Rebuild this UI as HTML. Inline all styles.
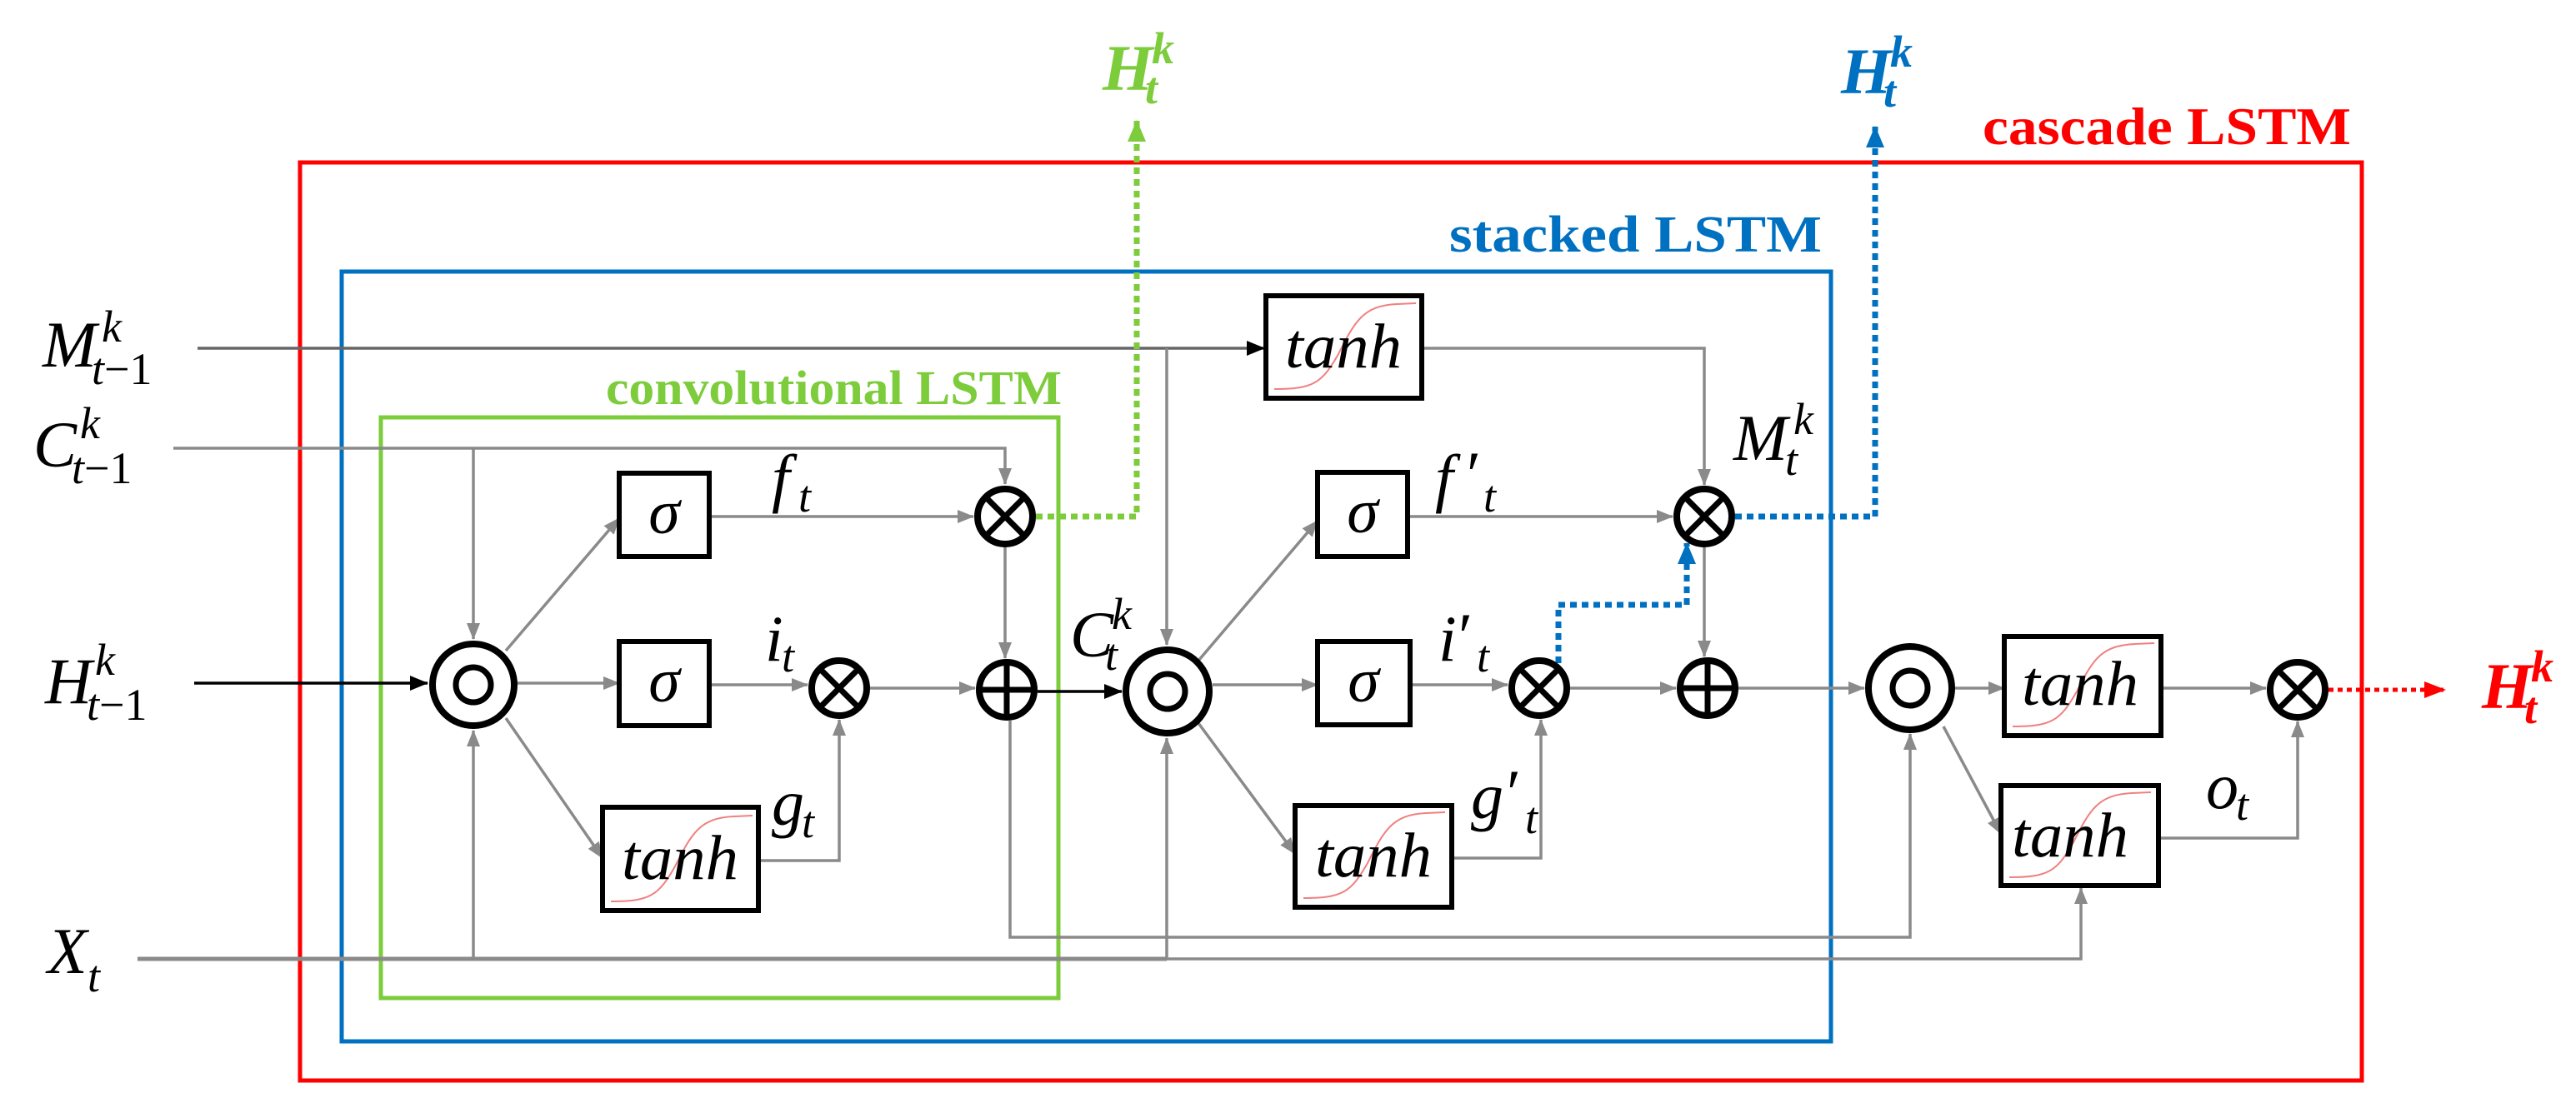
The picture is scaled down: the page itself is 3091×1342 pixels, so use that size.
<!DOCTYPE html>
<html><head><meta charset="utf-8"><style>
html,body{margin:0;padding:0;background:#fff;}
svg{display:block;}
text{font-family:"Liberation Serif","DejaVu Serif",serif;}
.m{font-family:"Liberation Serif",serif;font-style:italic;font-size:78px;fill:#000;}
.s{font-family:"Liberation Serif",serif;font-style:italic;font-size:54px;fill:#000;}
.u{font-style:normal;}
.g{fill:none;stroke:#8a8a8a;stroke-width:3.5;}
.k{fill:none;stroke:#000;stroke-width:3.5;}
.box{fill:#fff;stroke:#000;stroke-width:6;}
.cir{fill:#fff;stroke:#000;stroke-width:8;}
.op{stroke:#000;stroke-width:7;fill:none;}
.cv{fill:none;stroke:#f08080;stroke-width:2;}
.tn{font-family:"Liberation Serif",serif;font-style:italic;font-size:76px;fill:#000;}
</style></head><body>
<svg width="3091" height="1342" viewBox="0 0 3091 1342" xmlns="http://www.w3.org/2000/svg">
<defs>
<marker id="agb" markerWidth="20" markerHeight="20" refX="19" refY="10" orient="auto" markerUnits="userSpaceOnUse" viewBox="0 0 20 20"><path d="M0,2 L20,10 L0,18 z" fill="#8a8a8a"/></marker>
<marker id="ak" markerWidth="22" markerHeight="22" refX="21" refY="11" orient="auto" markerUnits="userSpaceOnUse" viewBox="0 0 22 22"><path d="M0,2 L22,11 L0,20 z" fill="#000"/></marker>
<marker id="agr" markerWidth="26" markerHeight="26" refX="25" refY="13" orient="auto" markerUnits="userSpaceOnUse" viewBox="0 0 26 26"><path d="M0,2 L26,13 L0,24 z" fill="#7dcc3c"/></marker>
<marker id="abl" markerWidth="26" markerHeight="26" refX="25" refY="13" orient="auto" markerUnits="userSpaceOnUse" viewBox="0 0 26 26"><path d="M0,2 L26,13 L0,24 z" fill="#0070c0"/></marker>
<marker id="ard" markerWidth="26" markerHeight="26" refX="25" refY="13" orient="auto" markerUnits="userSpaceOnUse" viewBox="0 0 26 26"><path d="M0,3 L26,13 L0,23 z" fill="#ff0000"/></marker>
</defs>

<rect x="360" y="195" width="2474" height="1102" fill="none" stroke="#ff0000" stroke-width="5"/>
<rect x="410" y="326" width="1787" height="924" fill="none" stroke="#0070c0" stroke-width="5"/>
<rect x="457" y="501" width="813" height="697" fill="none" stroke="#7dcc3c" stroke-width="5"/>
<text x="2379" y="173" font-weight="bold" font-size="64" fill="#ff0000" textLength="442" lengthAdjust="spacingAndGlyphs">cascade LSTM</text>
<text x="1739" y="302" font-weight="bold" font-size="62" fill="#0070c0" textLength="447" lengthAdjust="spacingAndGlyphs">stacked LSTM</text>
<text x="727" y="485" font-weight="bold" font-size="58" fill="#7dcc3c" textLength="547" lengthAdjust="spacingAndGlyphs">convolutional  LSTM</text>

<polyline class="g" style="stroke:#666" points="237,418 1517,418" marker-end="url(#ak)"/>
<polyline class="g" points="1400,418 1400,774" marker-end="url(#agb)"/>
<polyline class="g" points="208,538 1206,538 1206,581" marker-end="url(#agb)"/>
<polyline class="g" points="568,538 568,767" marker-end="url(#agb)"/>
<polyline class="k" points="233,820 513,820" marker-end="url(#ak)"/>
<polyline class="g" style="stroke-width:5" points="165,1151 1400,1151"/>
<polyline class="g" points="1400,1151 2497,1151 2497,1066" marker-end="url(#agb)"/>
<polyline class="g" points="568,1151 568,877" marker-end="url(#agb)"/>
<polyline class="g" points="1400,1151 1400,886" marker-end="url(#agb)"/>
<line class="g" x1="607" y1="781" x2="743" y2="622" marker-end="url(#agb)"/>
<line class="g" x1="620" y1="820" x2="743" y2="820" marker-end="url(#agb)"/>
<line class="g" x1="607" y1="862" x2="723" y2="1030" marker-end="url(#agb)"/>
<line class="g" x1="851" y1="620" x2="1168" y2="620" marker-end="url(#agb)"/>
<line class="g" x1="851" y1="822" x2="969" y2="822" marker-end="url(#agb)"/>
<polyline class="g" points="910,1033 1007,1033 1007,864" marker-end="url(#agb)"/>
<line class="g" x1="1044" y1="826" x2="1170" y2="826" marker-end="url(#agb)"/>
<line class="g" x1="1206" y1="657" x2="1206" y2="790" marker-end="url(#agb)"/>
<line class="k" x1="1245" y1="830" x2="1346" y2="830" marker-end="url(#ak)"/>
<polyline class="g" points="1212,865 1212,1125 2292,1125 2292,881" marker-end="url(#agb)"/>
<line class="g" x1="1438" y1="793" x2="1581" y2="625" marker-end="url(#agb)"/>
<line class="g" x1="1455" y1="822" x2="1581" y2="822" marker-end="url(#agb)"/>
<line class="g" x1="1438" y1="868" x2="1554" y2="1025" marker-end="url(#agb)"/>
<line class="g" x1="1689" y1="620" x2="2007" y2="620" marker-end="url(#agb)"/>
<line class="g" x1="1692" y1="822" x2="1809" y2="822" marker-end="url(#agb)"/>
<polyline class="g" points="1742,1030 1849,1030 1849,864" marker-end="url(#agb)"/>
<line class="g" x1="1884" y1="826" x2="2011" y2="826" marker-end="url(#agb)"/>
<line class="g" x1="2045" y1="657" x2="2045" y2="788" marker-end="url(#agb)"/>
<polyline class="g" points="1706,418 2045,418 2045,582" marker-end="url(#agb)"/>
<line class="g" x1="2086" y1="826" x2="2237" y2="826" marker-end="url(#agb)"/>
<line class="g" x1="2346" y1="826" x2="2405" y2="826" marker-end="url(#agb)"/>
<line class="g" x1="2332" y1="872" x2="2401" y2="1001" marker-end="url(#agb)"/>
<line class="g" x1="2593" y1="826" x2="2719" y2="826" marker-end="url(#agb)"/>
<polyline class="g" points="2590,1006 2757,1006 2757,866" marker-end="url(#agb)"/>

<polyline points="1243,620 1364,620 1364,145" fill="none" stroke="#7dcc3c" stroke-width="7" stroke-dasharray="8,6" marker-end="url(#agr)"/>
<polyline points="2082,620 2250,620 2250,152" fill="none" stroke="#0070c0" stroke-width="7" stroke-dasharray="8,6" marker-end="url(#abl)"/>
<polyline points="1870,796 1870,726 2024,726 2024,652" fill="none" stroke="#0070c0" stroke-width="7" stroke-dasharray="8,6" marker-end="url(#abl)"/>
<polyline points="2794,828 2934,828" fill="none" stroke="#ff0000" stroke-width="5" stroke-dasharray="6,5" marker-end="url(#ard)"/>

<rect class="box" x="743" y="568" width="108" height="100"/>
<text class="tn" x="797" y="640" text-anchor="middle">σ</text>
<rect class="box" x="743" y="770" width="108" height="101"/>
<text class="tn" x="797" y="842" text-anchor="middle">σ</text>
<rect class="box" x="1581" y="567" width="108" height="101"/>
<text class="tn" x="1635" y="639" text-anchor="middle">σ</text>
<rect class="box" x="1581" y="770" width="111" height="100"/>
<text class="tn" x="1636" y="842" text-anchor="middle">σ</text>

<rect class="box" x="723" y="969" width="187" height="124"/>
<path class="cv" d="M733,1082 C780,1082 790,1075 810,1040 C830,1000 840,982 880,980 L903,979"/>
<text class="tn" x="816" y="1055" text-anchor="middle" textLength="140" lengthAdjust="spacingAndGlyphs">tanh</text>
<rect class="box" x="1519" y="355" width="187" height="123"/>
<path class="cv" d="M1529,467 C1576,467 1586,460 1606,425 C1626,385 1636,367 1676,365 L1699,364"/>
<text class="tn" x="1612" y="441" text-anchor="middle" textLength="140" lengthAdjust="spacingAndGlyphs">tanh</text>
<rect class="box" x="1554" y="967" width="188" height="122"/>
<path class="cv" d="M1564,1078 C1611,1078 1621,1071 1641,1036 C1661,996 1671,978 1711,976 L1734,975"/>
<text class="tn" x="1648" y="1052" text-anchor="middle" textLength="140" lengthAdjust="spacingAndGlyphs">tanh</text>
<rect class="box" x="2405" y="764" width="188" height="119"/>
<path class="cv" d="M2415,872 C2462,872 2472,865 2492,830 C2512,790 2522,775 2562,773 L2585,772"/>
<text class="tn" x="2496" y="846" text-anchor="middle" textLength="140" lengthAdjust="spacingAndGlyphs">tanh</text>
<rect class="box" x="2401" y="943" width="189" height="120"/>
<path class="cv" d="M2411,1053 C2458,1053 2468,1046 2488,1011 C2508,971 2518,954 2558,952 L2581,951"/>
<text class="tn" x="2484" y="1028" text-anchor="middle" textLength="140" lengthAdjust="spacingAndGlyphs">tanh</text>

<circle class="cir" cx="568" cy="822" r="49"/><circle cx="568" cy="822" r="21" fill="none" stroke="#000" stroke-width="7"/>
<circle class="cir" cx="1401" cy="830" r="50"/><circle cx="1401" cy="830" r="21" fill="none" stroke="#000" stroke-width="7"/>
<circle class="cir" cx="2292" cy="826" r="50"/><circle cx="2292" cy="826" r="21" fill="none" stroke="#000" stroke-width="7"/>

<circle class="cir" cx="1206" cy="620" r="33"/><path class="op" d="M1183,597 L1229,643 M1229,597 L1183,643"/>
<circle class="cir" cx="1007" cy="826" r="33"/><path class="op" d="M984,803 L1030,849 M1030,803 L984,849"/>
<circle class="cir" cx="1847" cy="826" r="33"/><path class="op" d="M1824,803 L1870,849 M1870,803 L1824,849"/>
<circle class="cir" cx="2045" cy="620" r="33"/><path class="op" d="M2022,597 L2068,643 M2068,597 L2022,643"/>
<circle class="cir" cx="2757" cy="828" r="33"/><path class="op" d="M2734,805 L2780,851 M2780,805 L2734,851"/>
<circle class="cir" cx="1208" cy="828" r="33"/><path class="op" d="M1175,828 L1241,828 M1208,795 L1208,861"/>
<circle class="cir" cx="2049" cy="826" r="33"/><path class="op" d="M2016,826 L2082,826 M2049,793 L2049,859"/>

<text class="m" x="51" y="440">M</text><text class="s" x="122" y="410">k</text><text class="s" x="110" y="461">t<tspan class="u">−1</tspan></text>
<text class="m" x="40" y="560">C</text><text class="s" x="96" y="526">k</text><text class="s" x="86" y="580">t<tspan class="u">−1</tspan></text>
<text class="m" x="54" y="844">H</text><text class="s" x="114" y="810">k</text><text class="s" x="104" y="864">t<tspan class="u">−1</tspan></text>
<text class="m" x="57" y="1168">X</text><text class="s" x="105" y="1190">t</text>
<text class="m" x="926" y="600">f</text><text class="s" x="958" y="614">t</text>
<text class="m" x="918" y="793">i</text><text class="s" x="938" y="806">t</text>
<text class="m" x="926" y="990">g</text><text class="s" x="962" y="1005">t</text>
<text class="m" x="1284" y="788">C</text><text class="s" x="1334" y="755">k</text><text class="s" x="1326" y="804">t</text>
<text class="m" x="1722" y="600">f</text><text class="m u" x="1760" y="596">′</text><text class="s" x="1780" y="614">t</text>
<text class="m" x="1726" y="793">i</text><text class="m u" x="1750" y="790">′</text><text class="s" x="1772" y="806">t</text>
<text class="m" x="1765" y="982">g</text><text class="m u" x="1808" y="978">′</text><text class="s" x="1830" y="1000">t</text>
<text class="m" x="2080" y="552">M</text><text class="s" x="2152" y="521">k</text><text class="s" x="2142" y="570">t</text>
<text class="m" x="2647" y="970">o</text><text class="s" x="2683" y="984">t</text>
<text class="m" style="fill:#7dcc3c;font-weight:bold" x="1323" y="108">H</text><text class="s" style="fill:#7dcc3c;font-weight:bold" x="1382" y="76">k</text><text class="s" style="fill:#7dcc3c;font-weight:bold" x="1374" y="124">t</text>
<text class="m" style="fill:#0070c0;font-weight:bold" x="2209" y="112">H</text><text class="s" style="fill:#0070c0;font-weight:bold" x="2268" y="80">k</text><text class="s" style="fill:#0070c0;font-weight:bold" x="2260" y="128">t</text>
<text class="m" style="fill:#ff0000;font-weight:bold" x="2978" y="850">H</text><text class="s" style="fill:#ff0000;font-weight:bold" x="3037" y="818">k</text><text class="s" style="fill:#ff0000;font-weight:bold" x="3029" y="868">t</text>
</svg>
</body></html>
